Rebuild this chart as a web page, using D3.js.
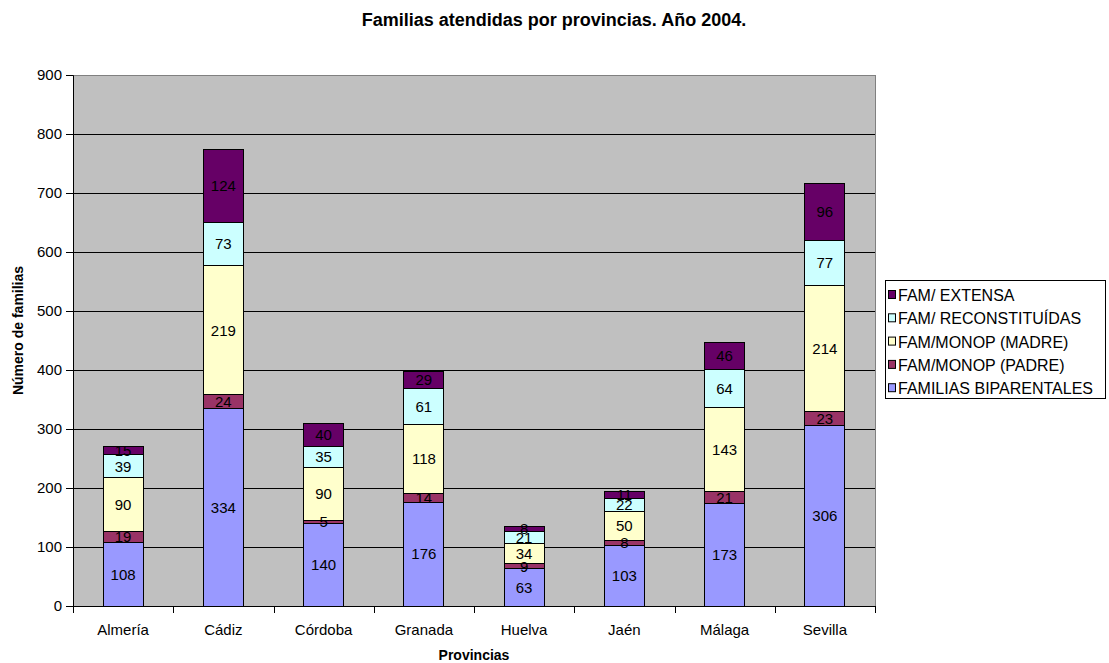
<!DOCTYPE html>
<html><head><meta charset="utf-8">
<script src="https://cdn.jsdelivr.net/npm/d3@7"></script>
<style>body{margin:0;background:#fff;} text{font-family:Arial,"Liberation Sans",sans-serif;}</style>
</head><body>
<svg id="c" width="1109" height="663"></svg>
<script>
const provincias = ["Almería","Cádiz","Córdoba","Granada","Huelva","Jaén","Málaga","Sevilla"];
const seriesNames = ["FAMILIAS BIPARENTALES","FAM/MONOP (PADRE)","FAM/MONOP (MADRE)","FAM/ RECONSTITUÍDAS","FAM/ EXTENSA"];
const biparentales = [108,334,140,176,63,103,173,306];
const monopPadre = [19,24,5,14,9,8,21,23];
const monopMadre = [90,219,90,118,34,50,143,214];
const reconstituidas = [39,73,35,61,21,22,64,77];
const extensa = [15,124,40,29,8,11,46,96];
const colors = ["#9999FF","#993366","#FFFFCC","#CCFFFF","#660066"];
const yTicks = [0,100,200,300,400,500,600,700,800,900];

const seriesVals = [biparentales, monopPadre, monopMadre, reconstituidas, extensa];
const rows = provincias.map((p,i)=>{const o={prov:p}; seriesNames.forEach((s,j)=>o[s]=seriesVals[j][i]); return o;});
const stack = d3.stack().keys(seriesNames)(rows);

const svg = d3.select("#c");
const L=73, R=875, T=75, B=606;
const x = d3.scaleBand().domain(provincias).range([L,R]).paddingInner(0.6).paddingOuter(0.3);
const y = d3.scaleLinear().domain([0,900]).range([B,T]);

svg.append("rect").attr("x",L).attr("y",T).attr("width",R-L).attr("height",B-T).attr("fill","#C0C0C0");
svg.append("g").selectAll("line").data(yTicks.slice(1)).join("line")
  .attr("x1",L).attr("x2",R).attr("y1",d=>Math.round(y(d))+0.5).attr("y2",d=>Math.round(y(d))+0.5).attr("stroke","#000").attr("stroke-width",1);
svg.append("rect").attr("x",L+0.5).attr("y",T+0.5).attr("width",R-L).attr("height",B-T).attr("fill","none").attr("stroke","#808080");

const g = svg.append("g").selectAll("g").data(stack).join("g").attr("fill",(d,i)=>colors[i]);
g.selectAll("rect").data(d=>d).join("rect")
  .attr("x",d=>x(d.data.prov)).attr("width",x.bandwidth())
  .attr("y",d=>y(d[1])).attr("height",d=>y(d[0])-y(d[1]))
  .attr("stroke","#000").attr("stroke-width",1).attr("shape-rendering","crispEdges");

svg.append("g").selectAll("g").data(stack).join("g").selectAll("text").data(d=>d).join("text")
  .attr("x",d=>x(d.data.prov)+x.bandwidth()/2).attr("y",d=>(y(d[0])+y(d[1]))/2+5.4)
  .attr("text-anchor","middle").attr("font-size",15).attr("fill","#000")
  .text(d=>d[1]-d[0]);

// y axis
const ya = svg.append("g").attr("transform",`translate(${L},0)`).call(d3.axisLeft(y).tickValues(yTicks).tickSize(7).tickPadding(4));
ya.select(".domain").attr("stroke","#000");
ya.selectAll(".tick line").attr("stroke","#000");
ya.selectAll("text").attr("font-size",15).attr("fill","#000").attr("font-family","Arial");
// x axis
svg.append("line").attr("x1",L).attr("x2",R).attr("y1",B+0.5).attr("y2",B+0.5).attr("stroke","#000");
const bounds = d3.range(provincias.length+1).map(i=>L+(R-L)*i/provincias.length);
svg.append("g").selectAll("line").data(bounds).join("line")
  .attr("x1",d=>Math.round(d)+0.5).attr("x2",d=>Math.round(d)+0.5).attr("y1",B).attr("y2",B+7).attr("stroke","#000");
svg.append("g").selectAll("text").data(provincias).join("text")
  .attr("x",d=>x(d)+x.bandwidth()/2).attr("y",634.5).attr("text-anchor","middle").attr("font-size",15).text(d=>d);

svg.append("text").attr("x",(L+R)/2).attr("y",660).attr("text-anchor","middle").attr("font-size",14).attr("font-weight","bold").text("Provincias");
svg.append("text").attr("transform",`translate(23,${(T+B)/2 - 10}) rotate(-90)`).attr("text-anchor","middle").attr("font-size",14).attr("font-weight","bold").text("Número de familias");
svg.append("text").attr("x",554).attr("y",26).attr("text-anchor","middle").attr("font-size",18).attr("font-weight","bold").text("Familias atendidas por provincias. Año 2004.");

// legend
const lg = svg.append("g");
lg.append("rect").attr("x",885.5).attr("y",280.5).attr("width",220).attr("height",118).attr("fill","#fff").attr("stroke","#000");
const legOrder = d3.range(seriesNames.length).reverse();
const li = lg.selectAll("g").data(legOrder).join("g").attr("transform",(d,i)=>`translate(0,${295+i*23.3})`);
li.append("rect").attr("x",888.5).attr("y",-4.5).attr("width",7).attr("height",8).attr("fill",d=>colors[d]).attr("stroke","#000");
li.append("text").attr("x",898).attr("y",6).attr("font-size",16).text(d=>seriesNames[d]);
</script>
</body></html>
